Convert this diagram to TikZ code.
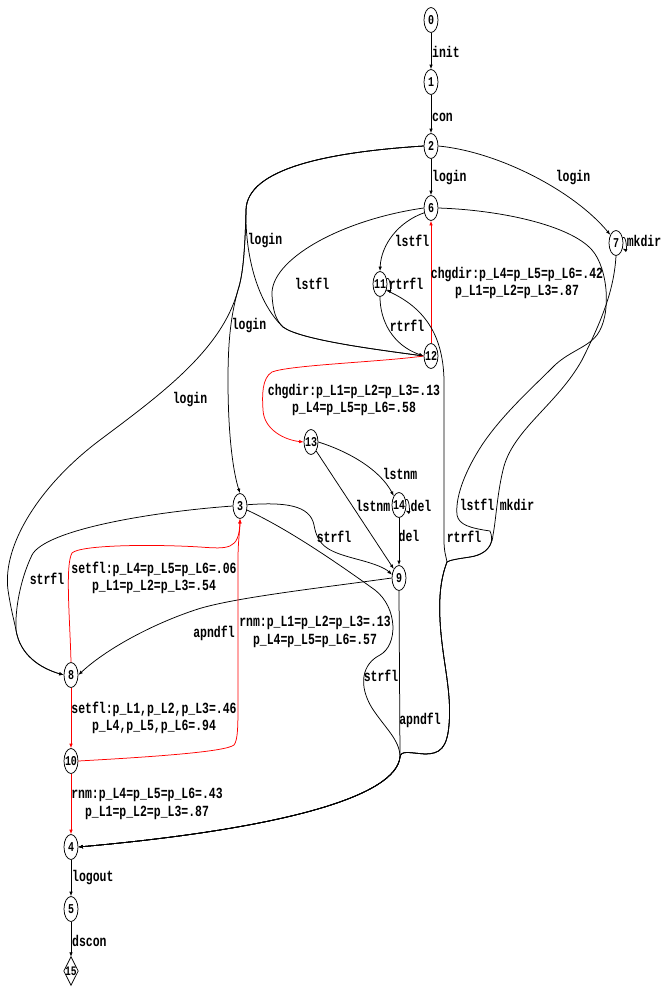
\documentclass[tikz,border=0pt]{standalone}
\usepackage{fontspec}
\usetikzlibrary{shapes.geometric,arrows.meta}
\newfontfamily\lblfont[FakeStretch=0.74]{Liberation Mono}
\tikzset{
  st/.style={draw, ellipse, line width=0.75pt, inner xsep=-1.2pt, inner ysep=0pt,
    minimum width=14pt, minimum height=25pt, font=\lblfont\bfseries\fontsize{13.5}{13.5}\selectfont},
  finst/.style={inner sep=0pt, minimum width=14pt, minimum height=28pt, font=\lblfont\bfseries\fontsize{13}{13}\selectfont},
  arr/.style={line width=0.75pt, -{Latex[length=4.5pt,width=3.5pt]}},
  rarr/.style={arr, draw=red},
  lbl/.style={font=\lblfont\bfseries\fontsize{15.5}{17.7}\selectfont, inner sep=0pt, align=center},
}
\begin{document}
\begin{tikzpicture}[x=1pt,y=-1pt]
\useasboundingbox (0,0) rectangle (663,988);
% nodes
\node[st] (n0) at (431,20) {0};
\node[st] (n1) at (431,82) {1};
\node[st] (n2) at (431,146) {2};
\node[st] (n6) at (431,208) {6};
\node[st] (n7) at (616,243) {7};
\node[st] (n11) at (380,284) {11};
\node[st] (n12) at (431,356) {12};
\node[st] (n13) at (311,442) {13};
\node[st] (n14) at (399,505) {14};
\node[st] (n3) at (240,506) {3};
\node[st] (n9) at (399,578) {9};
\node[st] (n8) at (71,675) {8};
\node[st] (n10) at (71,761) {10};
\node[st] (n4) at (71,847) {4};
\node[st] (n5) at (71,909) {5};
\node[finst] (n15) at (71,971) {15};
\draw[line width=0.75pt] (n15.north) -- (n15.east) -- (n15.south) -- (n15.west) -- cycle;

% straight edges
\draw[arr] (n0) -- (n1);
\draw[arr] (n1) -- (n2);
\draw[arr] (n2) -- (n6);
\draw[arr] (n4) -- (n5);
\draw[arr] (n5) -- (n15.north);
\draw[arr] (n14) -- (n9);
\draw[rarr] (n12) -- (n6);
\draw[rarr] (n8) -- (n10);
\draw[rarr] (n10) -- (n4);
\draw[arr] (n13.-60) -- (n9.120);

% 2 -> 7
\draw[arr] (n2.east) .. controls (500,152) and (575,192) .. (n7.125);
% 2 -> 12, 3, 8 (login)
\draw[arr] (n2.west) .. controls (330,152) and (247,168) .. (246,210)
  .. controls (245,250) and (255,300) .. (283,327)
  .. controls (300,340) and (380,350) .. (n12.west);
\draw[arr] (n2.west) .. controls (330,152) and (247,168) .. (246,210)
  .. controls (245,250) and (243,275) .. (238,290)
  .. controls (231,315) and (228,340) .. (228,380)
  .. controls (228,440) and (234,475) .. (n3.north);
\draw[arr] (n2.west) .. controls (330,152) and (247,168) .. (246,210)
  .. controls (245,250) and (243,275) .. (238,290)
  .. controls (222,350) and (160,395) .. (100,440)
  .. controls (40,485) and (2,545) .. (8,590)
  .. controls (11,610) and (14,620) .. (16,630)
  .. controls (20,655) and (40,668) .. (n8.west);
% 6 -> 11, 6 -> 12
\draw[arr] (n6.215) .. controls (398,222) and (381,245) .. (n11.north);
\draw[arr] (n6.west) .. controls (340,220) and (270,260) .. (272,295)
  .. controls (273,312) and (276,320) .. (283,327)
  .. controls (300,340) and (380,350) .. (n12.west);
% 11 loop, 11 -> 12
\draw[arr] (n11.40) .. controls +(4,-2) and +(4,2) .. (n11.-40);
\draw[arr] (n11.south) .. controls (380,320) and (392,345) .. (n12.west);
% 11 -> 4, 6 -> 4, 7 -> 4, 9 -> 4, 3 -> 4
\draw[arr] (n11.-45) .. controls (420,305) and (443,330) .. (444,380) -- (444,540)
  .. controls (444,552) and (446,556) .. (447,562)
  .. controls (440,580) and (439,600) .. (440,620)
  .. controls (442,660) and (452,690) .. (449,725)
  .. controls (447,748) and (440,754) .. (425,754)
  .. controls (410,753) and (401,750) .. (400,757)
  .. controls (396,795) and (290,828) .. (n4.east);
\draw[arr] (n6.east) .. controls (500,210) and (570,225) .. (592,250)
  .. controls (608,268) and (612,315) .. (597,335)
  .. controls (587,348) and (567,352) .. (552,368)
  .. controls (532,388) and (502,415) .. (482,445)
  .. controls (467,468) and (455,495) .. (457,515)
  .. controls (459,525) and (470,528) .. (490,531)
  .. controls (494,540) and (492,553) .. (470,557)
  .. controls (457,559) and (450,560) .. (447,562)
  .. controls (440,580) and (439,600) .. (440,620)
  .. controls (442,660) and (452,690) .. (449,725)
  .. controls (447,748) and (440,754) .. (425,754)
  .. controls (410,753) and (401,750) .. (400,757)
  .. controls (396,795) and (290,828) .. (n4.east);
\draw[arr] (n7.south) .. controls (614,290) and (602,320) .. (582,360)
  .. controls (557,405) and (512,430) .. (503,470)
  .. controls (497,495) and (496,520) .. (493,535)
  .. controls (492,550) and (480,556) .. (470,557)
  .. controls (457,559) and (450,560) .. (447,562)
  .. controls (440,580) and (439,600) .. (440,620)
  .. controls (442,660) and (452,690) .. (449,725)
  .. controls (447,748) and (440,754) .. (425,754)
  .. controls (410,753) and (401,750) .. (400,757)
  .. controls (396,795) and (290,828) .. (n4.east);
\draw[arr] (n9.south) -- (400,757)
  .. controls (396,795) and (290,828) .. (n4.east);
\draw[arr] (n3.-30) .. controls (290,530) and (340,565) .. (375,590)
  .. controls (398,608) and (398,645) .. (380,655)
  .. controls (362,664) and (358,685) .. (372,708)
  .. controls (385,728) and (400,740) .. (400,757)
  .. controls (396,795) and (290,828) .. (n4.east);
% 7 loop
\draw[arr] (n7.40) .. controls +(4,-2) and +(4,2) .. (n7.-40);
% 13 -> 14, 14 loop
\draw[arr] (n13.east) .. controls (350,452) and (380,470) .. (n14.120);
\draw[arr] (n14.40) .. controls +(4,-2) and +(4,2) .. (n14.-40);
% 12 -> 13 red
\draw[rarr] (n12.west) .. controls (380,362) and (290,365) .. (272,372)
  .. controls (262,378) and (262,395) .. (263,410)
  .. controls (264,430) and (285,440) .. (n13.west);
% 3 -> 9
\draw[arr] (n3.10) .. controls (285,502) and (310,505) .. (314,525)
  .. controls (318,548) and (330,552) .. (360,560)
  .. controls (375,564) and (385,568) .. (n9.155);
% 3 -> 8
\draw[arr] (n3.west) .. controls (150,512) and (45,530) .. (32,555)
  .. controls (20,580) and (15,610) .. (16,630)
  .. controls (20,655) and (40,668) .. (n8.west);
% 9 -> 8
\draw[arr] (n9.west) .. controls (320,588) and (230,598) .. (195,610)
  .. controls (150,625) and (105,650) .. (n8.east);
% 8 -> 3 red, 10 -> 3 red
\draw[rarr] (n8.north) .. controls (70,620) and (65,565) .. (72,553)
  .. controls (80,545) and (150,544) .. (200,547)
  .. controls (228,549) and (239,550) .. (n3.south);
\draw[rarr] (n10.east) .. controls (150,757) and (225,752) .. (234,745)
  .. controls (238,740) and (238,725) .. (238,700) -- (238,560)
  .. controls (238,540) and (240,530) .. (n3.south);

% labels
\node[lbl, anchor=west] (l01) at (432,52) {init};
\node[lbl, anchor=west] (l12) at (432,117) {con};
\node[lbl, anchor=west] (l26) at (432,178) {login};
\node[lbl] (l27) at (573,178) {login};
\node[lbl] (l212) at (265,241) {login};
\node[lbl] (l23) at (249,326) {login};
\node[lbl] (l28) at (190,400) {login};
\node[lbl] (l611) at (412,241) {lstfl};
\node[lbl] (l612) at (312,284) {lstfl};
\node[lbl] (l1111) at (406,284) {rtrfl};
\node[lbl] (l1112) at (407,326) {rtrfl};
\node[lbl] (l114) at (464,537) {rtrfl};
\node[lbl] (l77) at (644,241) {mkdir};
\node[lbl] (l64) at (477,505) {lstfl};
\node[lbl] (l74) at (517,505) {mkdir};
\node[lbl] (l1314) at (400,474) {lstnm};
\node[lbl] (l139) at (373,506) {lstnm};
\node[lbl] (l1414) at (421,506) {del};
\node[lbl] (l149) at (409,536) {del};
\node[lbl] (l39) at (334,537) {strfl};
\node[lbl] (l38) at (47,579) {strfl};
\node[lbl] (l98) at (214,633) {apndfl};
\node[lbl] (l34) at (381,676) {strfl};
\node[lbl] (l94) at (420,720) {apndfl};
\node[lbl, anchor=west] (l45) at (72,878) {logout};
\node[lbl, anchor=west] (l515) at (72,941) {dscon};
\node[lbl] (l126) at (517,283) {chgdir:p\_L4=p\_L5=p\_L6=.42\\p\_L1=p\_L2=p\_L3=.87};
\node[lbl] (l1213) at (354,400) {chgdir:p\_L1=p\_L2=p\_L3=.13\\p\_L4=p\_L5=p\_L6=.58};
\node[lbl] (l83) at (154,578) {setfl:p\_L4=p\_L5=p\_L6=.06\\p\_L1=p\_L2=p\_L3=.54};
\node[lbl] (l103) at (315,632) {rnm:p\_L1=p\_L2=p\_L3=.13\\p\_L4=p\_L5=p\_L6=.57};
\node[lbl] (l810) at (154,718) {setfl:p\_L1,p\_L2,p\_L3=.46\\p\_L4,p\_L5,p\_L6=.94};
\node[lbl] (l104) at (147,804) {rnm:p\_L4=p\_L5=p\_L6=.43\\p\_L1=p\_L2=p\_L3=.87};
\end{tikzpicture}
\end{document}
